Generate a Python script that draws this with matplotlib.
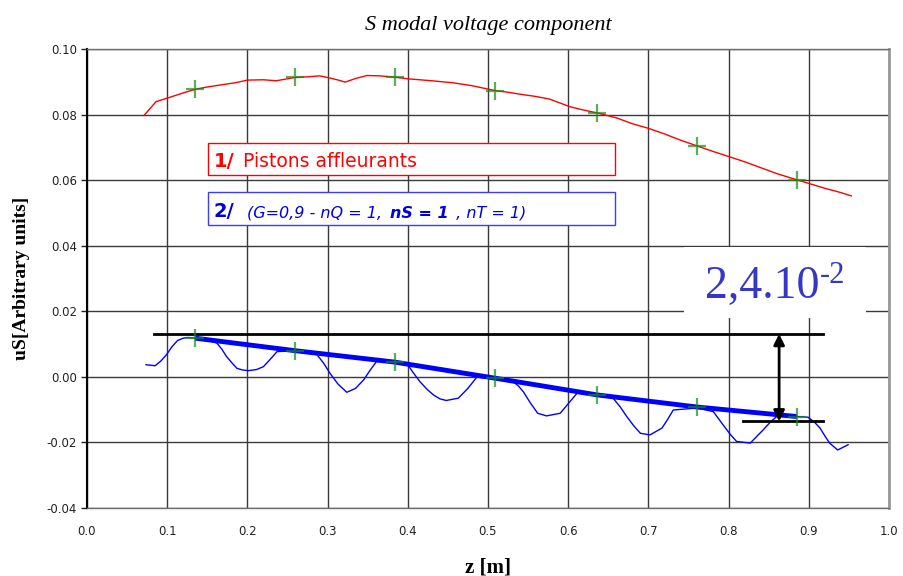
import matplotlib
matplotlib.use('Agg')
import matplotlib.pyplot as plt
from matplotlib.patches import Rectangle

# courbe 1 - pistons affleurants (rouge)
z_red = [0.071, 0.080, 0.086, 0.100, 0.120, 0.135, 0.150, 0.166, 0.185, 0.200,
         0.220, 0.236, 0.259, 0.275, 0.290, 0.300, 0.312, 0.322, 0.335, 0.349,
         0.365, 0.384, 0.400, 0.430, 0.456, 0.480, 0.509, 0.525, 0.540, 0.560,
         0.577, 0.602, 0.615, 0.636, 0.660, 0.680, 0.700, 0.720, 0.740, 0.761,
         0.780, 0.800, 0.820, 0.840, 0.860, 0.885, 0.900, 0.920, 0.940, 0.953]
u_red = [0.0797, 0.0822, 0.0839, 0.0850, 0.0866, 0.0877, 0.0884, 0.0890, 0.0897, 0.0905,
         0.0906, 0.0903, 0.0913, 0.0915, 0.0918, 0.0913, 0.0906, 0.0899, 0.0910, 0.0919,
         0.0918, 0.0914, 0.0909, 0.0903, 0.0897, 0.0888, 0.0873, 0.0868, 0.0862, 0.0855,
         0.0847, 0.0824, 0.0816, 0.0805, 0.0790, 0.0772, 0.0758, 0.0741, 0.0722, 0.0704,
         0.0688, 0.0672, 0.0656, 0.0638, 0.0620, 0.0601, 0.0590, 0.0575, 0.0562, 0.0552]

# courbe 2 (bleu fin)
z_blue = [0.0736, 0.085, 0.092, 0.099, 0.106, 0.113, 0.120, 0.126, 0.135, 0.150,
          0.162, 0.168, 0.174, 0.181, 0.187, 0.194, 0.201, 0.211, 0.220, 0.229,
          0.237, 0.259, 0.286, 0.295, 0.303, 0.313, 0.324, 0.335, 0.345, 0.353,
          0.361, 0.384, 0.400, 0.407, 0.415, 0.424, 0.432, 0.440, 0.448, 0.463,
          0.475, 0.486, 0.509, 0.531, 0.538, 0.544, 0.553, 0.562, 0.573, 0.590,
          0.600, 0.611, 0.633, 0.656, 0.665, 0.673, 0.682, 0.690, 0.702, 0.717,
          0.724, 0.731, 0.761, 0.781, 0.793, 0.802, 0.810, 0.827, 0.843, 0.852,
          0.860, 0.885, 0.899, 0.907, 0.914, 0.920, 0.926, 0.936, 0.949]
u_blue = [0.0037, 0.0034, 0.0048, 0.0067, 0.0092, 0.0111, 0.0118, 0.0120, 0.0118, 0.0112,
          0.0103, 0.0085, 0.0062, 0.0042, 0.0026, 0.0021, 0.0019, 0.0022, 0.0031, 0.0055,
          0.0077, 0.0080, 0.0070, 0.0042, 0.0011, -0.0022, -0.0047, -0.0035, -0.0009, 0.0020,
          0.0047, 0.0044, 0.0037, 0.0012, -0.0014, -0.0038, -0.0055, -0.0067, -0.0072, -0.0065,
          -0.0035, -0.0001, -0.0007, -0.0014, -0.0028, -0.0045, -0.0080, -0.0111, -0.0119, -0.0111,
          -0.0082, -0.0050, -0.0055, -0.0065, -0.0092, -0.0121, -0.0150, -0.0172, -0.0177, -0.0156,
          -0.0130, -0.0101, -0.0095, -0.0106, -0.0146, -0.0175, -0.0197, -0.0202, -0.0162, -0.0138,
          -0.0121, -0.0121, -0.0123, -0.0138, -0.0156, -0.0180, -0.0202, -0.0223, -0.0207]

# points de mesure (croix vertes) + ligne bleue epaisse
z_pts = [0.135, 0.259, 0.384, 0.509, 0.636, 0.761, 0.885]
u_pts_red = [0.0877, 0.0913, 0.0914, 0.0873, 0.0805, 0.0704, 0.0601]
u_pts_blue = [0.0118, 0.0080, 0.0045, -0.0004, -0.0055, -0.0092, -0.0121]

# ecart max
u_top = 0.0131
u_bot = -0.0136
z_arrow = 0.863

xticks = [0.0, 0.1, 0.2, 0.3, 0.4, 0.5, 0.6, 0.7, 0.8, 0.9, 1.0]
yticks = [-0.04, -0.02, 0.00, 0.02, 0.04, 0.06, 0.08, 0.10]

fig = plt.figure(figsize=(9.04, 5.76), dpi=100)
ax = fig.add_axes([0.0962, 0.118, 0.8872, 0.797])

ax.plot(z_red, u_red, color='red', lw=1, zorder=3)
ax.plot(z_blue, u_blue, color='blue', lw=1, zorder=3)
ax.plot(z_pts, u_pts_blue, color='blue', lw=3.5, zorder=4, solid_capstyle='butt')
ax.plot(z_pts, u_pts_red, ls='none', marker='+', ms=13, mew=1.6, color='#178a17', alpha=0.7, zorder=5)
ax.plot(z_pts, u_pts_blue, ls='none', marker='+', ms=13, mew=1.6, color='#178a17', alpha=0.7, zorder=5)

# lignes horizontales + fleche
ax.plot([0.0835, 0.918], [u_top, u_top], color='black', lw=2, zorder=3)
ax.plot([0.818, 0.918], [u_bot, u_bot], color='black', lw=2, zorder=3)
ax.annotate('', xy=(z_arrow, u_top), xytext=(z_arrow, u_bot),
            arrowprops=dict(arrowstyle='<|-|>', color='black', lw=2, mutation_scale=16,
                            shrinkA=0, shrinkB=0), zorder=6)

# cadre blanc + texte 2,4.10-2
ax.add_patch(Rectangle((0.744, 0.018), 0.227, 0.0216, facecolor='white', edgecolor='none', zorder=2))
t = ax.text(0.842, 0.0241, '2,4.10', color='#3636c8', fontsize=33,
            family='Liberation Serif', ha='center', va='baseline', zorder=7)
ax.annotate('-2', xy=(1, 1), xycoords=t, xytext=(0, 3), textcoords='offset points',
            color='#3636c8', fontsize=22, family='Liberation Serif', ha='left', va='top', zorder=7)

# "legendes"
ax.add_patch(Rectangle((0.151, 0.0616), 0.507, 0.0097, facecolor='white', edgecolor='red', lw=1, zorder=2))
ax.add_patch(Rectangle((0.151, 0.0463), 0.507, 0.0101, facecolor='white', edgecolor='#3c3cff', lw=1, zorder=2))

t = ax.text(0.158, 0.0628, '1/', color='red', fontsize=14, fontweight='bold', va='bottom', zorder=7)
ax.annotate('Pistons affleurants', xy=(1, 0), xycoords=t, xytext=(6, 0), textcoords='offset points',
            color='red', fontsize=13.5, va='bottom', zorder=7)

t = ax.text(0.158, 0.0476, '2/', color='#0000dd', fontsize=14, fontweight='bold', va='bottom', zorder=7)
t = ax.annotate('(G=0,9 - nQ = 1, ', xy=(1, 0), xycoords=t, xytext=(9, 0), textcoords='offset points',
                color='#0000dd', fontsize=11.5, style='italic', va='bottom', zorder=7)
t = ax.annotate('nS = 1', xy=(1, 0), xycoords=t, xytext=(2, 0), textcoords='offset points',
                color='#0000dd', fontsize=11.5, style='italic', fontweight='bold', va='bottom', zorder=7)
ax.annotate(' , nT = 1)', xy=(1, 0), xycoords=t, xytext=(2, 0), textcoords='offset points',
            color='#0000dd', fontsize=11.5, style='italic', va='bottom', zorder=7)

ax.set_xlim(0, 1)
ax.set_ylim(-0.04, 0.10)
ax.set_xticks(xticks)
ax.set_xticklabels(['%.1f' % v for v in xticks])
ax.set_yticks(yticks)
ax.set_yticklabels(['%.2f' % v for v in yticks])
ax.tick_params(axis='x', length=0, pad=12, labelsize=8.5, colors='#222222')
ax.tick_params(axis='y', length=4, width=1, pad=3, labelsize=8.5, colors='#222222')

ax.set_axisbelow(True)
ax.grid(True, color='#3a3a3a', lw=1)

for s in ['top', 'bottom']:
    ax.spines[s].set_color('#707070')
    ax.spines[s].set_linewidth(1)
ax.spines['right'].set_color('#999999')
ax.spines['right'].set_linewidth(2)
ax.spines['left'].set_color('black')
ax.spines['left'].set_linewidth(1.5)

ax.set_title('S modal voltage component', family='Liberation Serif', style='italic',
             fontsize=16, pad=14)
ax.set_xlabel('z [m]', family='Liberation Serif', fontweight='bold', fontsize=15, labelpad=14)
ax.set_ylabel('uS[Arbitrary units]', family='Liberation Serif', fontweight='bold', fontsize=14, labelpad=12)

fig.savefig('out.png', dpi=100)
